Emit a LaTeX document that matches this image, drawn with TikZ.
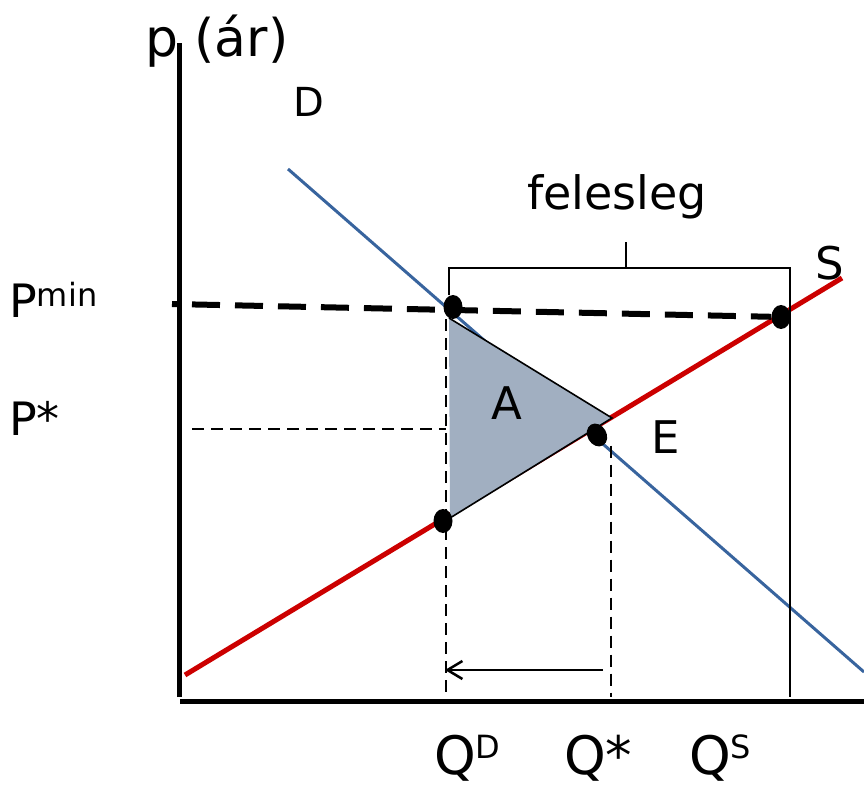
\documentclass[tikz,border=0pt]{standalone}
\usepackage{fontspec}
\setmainfont{DejaVu Sans}
\usetikzlibrary{arrows.meta,shapes.geometric}
\definecolor{dblue}{RGB}{56,100,158}
\definecolor{sred}{RGB}{204,0,0}
\definecolor{afill}{RGB}{161,175,193}
\begin{document}
\begin{tikzpicture}[x=1pt,y=-1pt,axis/.style={line width=5pt},curveD/.style={dblue,line width=3pt},curveS/.style={sred,line width=5pt},mkdot/.style={ellipse,fill=black,inner sep=0pt,minimum width=19pt,minimum height=24pt},minline/.style={line width=6pt,dash pattern=on 28pt off 15pt,dash phase=23pt},guide/.style={line width=1.8pt,dash pattern=on 12pt off 7pt},bracket/.style={line width=1.6pt},lbl/.style={inner sep=0pt,font=\fontsize{45}{50}\selectfont},arr/.style={-{Straight Barb[length=15pt,width=18pt]},line width=2.5pt}]
\useasboundingbox (0,0) rectangle (864,791);
\coordinate (yb) at (179,697);\coordinate (yt) at (179,43);
\coordinate (xl) at (180,701);\coordinate (xr) at (864,701);
\draw[axis] (yb)--(yt);\draw[axis] (xl)--(xr);
\coordinate (d1) at (288,169);\coordinate (d2) at (864,672);
\coordinate (s1) at (185,675);\coordinate (s2) at (842,278);
\draw[curveD] (d1)--(d2);\draw[curveS] (s1)--(s2);
\coordinate (ta) at (449,318);\coordinate (tb) at (612,418);\coordinate (tc) at (450,518);
\fill[afill] (ta)--(tb)--(tc)--cycle;
\draw[bracket] (ta)--(tb)--(tc);
\node[mkdot] (pd) at (453,307) {};
\node[mkdot] (ps) at (781,317) {};
\node[mkdot,rotate=30] (eq) at (597,435) {};
\node[mkdot] (ld) at (443,521) {};
\coordinate (pm0) at (172,304);\coordinate (pa0) at (192,429);
\coordinate (qd0) at (446,697);\coordinate (qe0) at (611,697);
\draw[minline] (pm0)--(ps);
\draw[guide] (pa0)--(pa0-|qd0);
\draw[guide] (qd0|-pd.south)--(qd0);
\draw[guide] (qe0|-eq.south)--(qe0);
\coordinate (bl) at (449,268);\coordinate (br) at (790,268);\coordinate (bm) at (626,268);
\draw[bracket] (pd.north-|bl)--(bl)--(br)--(br|-qe0);
\draw[bracket] (bm)--++(0,-26);
\coordinate (a1) at (603,670);\coordinate (a2) at (445,670);
\draw[arr] (a1)--(a2);
\node[lbl,anchor=base west,font=\fontsize{52}{56}\selectfont] (plab) at (145,57) {p (ár)};
\node[lbl,font=\fontsize{40}{44}\selectfont] (dlab) at (309,102) {D};
\node[lbl,anchor=base,font=\fontsize{46}{50}\selectfont] (flab) at (617,210) {felesleg};
\node[lbl] (slab) at (830,263) {S};
\node[lbl] (elab) at (666,437) {E};
\node[lbl] (alab) at (507,403) {A};
\node[lbl,anchor=base west,font=\fontsize{46}{50}\selectfont] (pmin) at (9,318) {P\raisebox{11pt}{\fontsize{32}{32}\selectfont min}};
\node[lbl,anchor=base west,font=\fontsize{46}{50}\selectfont] (pstar) at (9,435) {P*};
\node[lbl,anchor=base west,font=\fontsize{53}{56}\selectfont] (qdlab) at (434,774) {Q\raisebox{16pt}{\fontsize{32}{32}\selectfont D}};
\node[lbl,anchor=base west,font=\fontsize{53}{56}\selectfont] (qlab) at (564,774) {Q*};
\node[lbl,anchor=base west,font=\fontsize{53}{56}\selectfont] (qslab) at (689,774) {Q\raisebox{16pt}{\fontsize{32}{32}\selectfont S}};
\end{tikzpicture}
\end{document}
